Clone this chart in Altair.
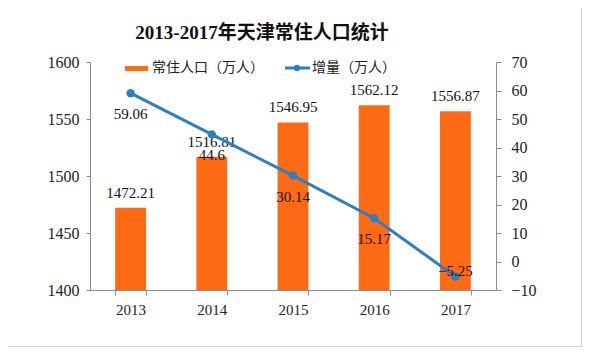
import altair as alt
import pandas as pd

years = ["2013", "2014", "2015", "2016", "2017"]
population = [1472.21, 1516.81, 1546.95, 1562.12, 1556.87]
increase = [59.06, 44.6, 30.14, 15.17, -5.25]
left_ticks = [1400, 1450, 1500, 1550, 1600]
right_ticks = [-10, 0, 10, 20, 30, 40, 50, 60, 70]

title_text = "2013-2017年天津常住人口统计"
series_names = ["常住人口（万人）", "增量（万人）"]

df = pd.DataFrame({"year": years, "pop": population, "inc": increase})
legend_df = pd.DataFrame({"bar_name": [series_names[0]], "line_name": [series_names[1]], "title": [title_text]})

ORANGE = "#FF6A14"
BLUE = "#2E7EC2"
NUM_FONT = "Liberation Serif"
CJK_FONT = "Noto Sans CJK SC"
TITLE_FONT = "Liberation Serif, Noto Sans CJK SC"

W, H = 406, 228

x_enc = alt.X(
    "year:N",
    sort=years,
    scale=alt.Scale(paddingInner=0.62, paddingOuter=0.31),
    axis=alt.Axis(
        title=None, tickBand="extent", labelAngle=0, labelFontSize=15, labelPadding=7,
        tickSize=5, labelFont=NUM_FONT, zindex=1,
    ),
)

base = alt.Chart(df)

bars = base.mark_bar(color=ORANGE, clip=True).encode(
    x=x_enc,
    y=alt.Y(
        "pop:Q",
        scale=alt.Scale(domain=[1400, 1600], zero=False, nice=False),
        axis=alt.Axis(
            title=None, orient="left", values=left_ticks, format="d",
            labelFontSize=16, tickSize=4, labelPadding=7, labelFont=NUM_FONT, grid=False,
            labelOverlap=False,
        ),
    ),
    y2=alt.Y2(datum=1400),
)
bar_text = base.mark_text(dy=-15, fontSize=15, font=NUM_FONT, color="#111").encode(
    x=alt.X("year:N", sort=years),
    y=alt.Y("pop:Q"),
    text=alt.Text("pop:Q", format=".2f"),
)
left = alt.layer(bars, bar_text)

y_right_axis = alt.Axis(
    title=None, orient="right", values=right_ticks, tickCount=9, format="d",
    labelFontSize=16, tickSize=5, labelPadding=10, labelFont=NUM_FONT, grid=False,
    labelOverlap=False,
)
y_right_scale = alt.Scale(domain=[-10, 70], nice=False, zero=False)


def yr():
    return alt.Y("inc:Q", scale=y_right_scale, axis=y_right_axis)


line = base.mark_line(color=BLUE, strokeWidth=3).encode(x=alt.X("year:N", sort=years), y=yr())
points = base.mark_point(color=BLUE, filled=True, opacity=1, size=70).encode(
    x=alt.X("year:N", sort=years), y=yr()
)
line_text_below = base.transform_filter(alt.datum.inc > 0).mark_text(
    dy=21, fontSize=15, font=NUM_FONT, color="#111"
).encode(x=alt.X("year:N", sort=years), y=yr(), text=alt.Text("inc:Q"))
line_text_above = base.transform_filter(alt.datum.inc <= 0).mark_text(
    dy=-5, fontSize=15, font=NUM_FONT, color="#111"
).encode(x=alt.X("year:N", sort=years), y=yr(), text=alt.Text("inc:Q"))
right = alt.layer(line, points, line_text_below, line_text_above)

# decorations: legend, title, frame
leg = alt.Chart(legend_df)
frame = leg.mark_rect(fill="transparent", stroke="#A0A0A0", strokeWidth=1).encode(
    x=alt.value(-83), x2=alt.value(492), y=alt.value(-56), y2=alt.value(285)
)
title = leg.mark_text(font=TITLE_FONT, fontSize=19, fontWeight="bold", color="#111", baseline="middle").encode(
    x=alt.value(172), y=alt.value(-29), text="title:N"
)
sw_bar = leg.mark_rect(color=ORANGE).encode(x=alt.value(35), x2=alt.value(58), y=alt.value(4), y2=alt.value(9))
txt_bar = leg.mark_text(font=CJK_FONT, fontSize=14, color="#222", align="left", baseline="middle").encode(
    x=alt.value(62), y=alt.value(6), text="bar_name:N"
)
sw_line = leg.mark_rule(color=BLUE, strokeWidth=3).encode(x=alt.value(195), x2=alt.value(220), y=alt.value(6))
sw_pt = leg.mark_point(color=BLUE, filled=True, opacity=1, size=40).encode(x=alt.value(207), y=alt.value(6))
txt_line = leg.mark_text(font=CJK_FONT, fontSize=14, color="#222", align="left", baseline="middle").encode(
    x=alt.value(222), y=alt.value(6), text="line_name:N"
)
deco = alt.layer(frame, title, sw_bar, txt_bar, sw_line, sw_pt, txt_line)

chart = (
    alt.layer(left, right, deco)
    .resolve_scale(y="independent")
    .properties(
        width=W, height=H,
        autosize=alt.AutoSizeParams(type="none"),
        padding={"left": 82, "top": 54, "right": 86, "bottom": 57},
        background="white",
    )
    .configure_view(strokeWidth=0)
    .configure_axis(domainColor="#8C8C8C", tickColor="#8C8C8C", labelColor="#222", labelOverlap=False)
)

chart.save("out.html", embed_options={"renderer": "svg", "actions": False})
